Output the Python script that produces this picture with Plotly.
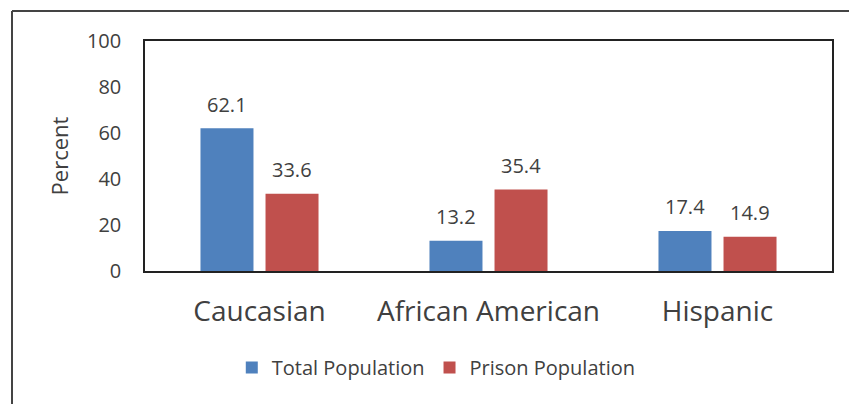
import plotly.graph_objects as go

categories = ["Caucasian", "African American", "Hispanic"]
total_population = [62.1, 13.2, 17.4]
prison_population = [33.6, 35.4, 14.9]
series_names = ["Total Population", "Prison Population"]
y_ticks = [0, 20, 40, 60, 80, 100]

BLUE = "#4F81BD"
RED = "#C0504D"
TXT = "#404040"
FONT = "Open Sans"

fig = go.Figure()
fig.add_trace(go.Bar(x=categories, y=total_population, name=series_names[0],
                     marker=dict(color=BLUE, line=dict(width=0))))
fig.add_trace(go.Bar(x=categories, y=prison_population, name=series_names[1],
                     marker=dict(color=RED, line=dict(width=0))))

annotations = []
for vals, shift in ((total_population, -32.5), (prison_population, 32.5)):
    for c, v in zip(categories, vals):
        annotations.append(dict(x=c, y=v, text=f"{v:.1f}", showarrow=False,
                                xshift=shift, yshift=24, yanchor="middle",
                                font=dict(family=FONT, size=20, color=TXT)))

L, R, T, B = 145, 17, 41, 133
W, H = 849, 404
pw, ph = W - L - R, H - T - B

def px(x):
    return (x - L) / pw

def py(y):
    return (H - B - y) / ph

shapes = [
    dict(type="line", xref="paper", yref="paper", x0=px(12), x1=px(12), y0=py(11), y1=py(420),
         line=dict(color="#444444", width=2)),
    dict(type="line", xref="paper", yref="paper", x0=px(12), x1=px(860), y0=py(11), y1=py(11),
         line=dict(color="#444444", width=2)),
]

fig.update_layout(
    width=W, height=H,
    margin=dict(l=L, r=R, t=T, b=B),
    paper_bgcolor="white", plot_bgcolor="white",
    barmode="group", bargap=0.432, bargroupgap=0.185,
    font=dict(family=FONT, color=TXT),
    showlegend=True,
    legend=dict(orientation="h", x=0.424, xanchor="center", y=-0.42, yanchor="middle",
                font=dict(family=FONT, size=20, color=TXT), itemwidth=30, traceorder="normal"),
    annotations=annotations,
    shapes=shapes,
)
fig.update_xaxes(showline=True, mirror=True, linecolor="#222222", linewidth=1.5,
                 showgrid=False, ticks="", tickfont=dict(family=FONT, size=28, color=TXT),
                 ticklabelstandoff=15)
fig.update_yaxes(range=[0, 100], tickvals=y_ticks, showline=True, mirror=True,
                 linecolor="#222222", linewidth=1.5, showgrid=False, zeroline=False,
                 ticks="", tickfont=dict(family=FONT, size=20, color=TXT),
                 ticklabelstandoff=18,
                 title=dict(text="Percent", font=dict(family=FONT, size=22, color=TXT), standoff=12))

fig.write_html("out.html")
